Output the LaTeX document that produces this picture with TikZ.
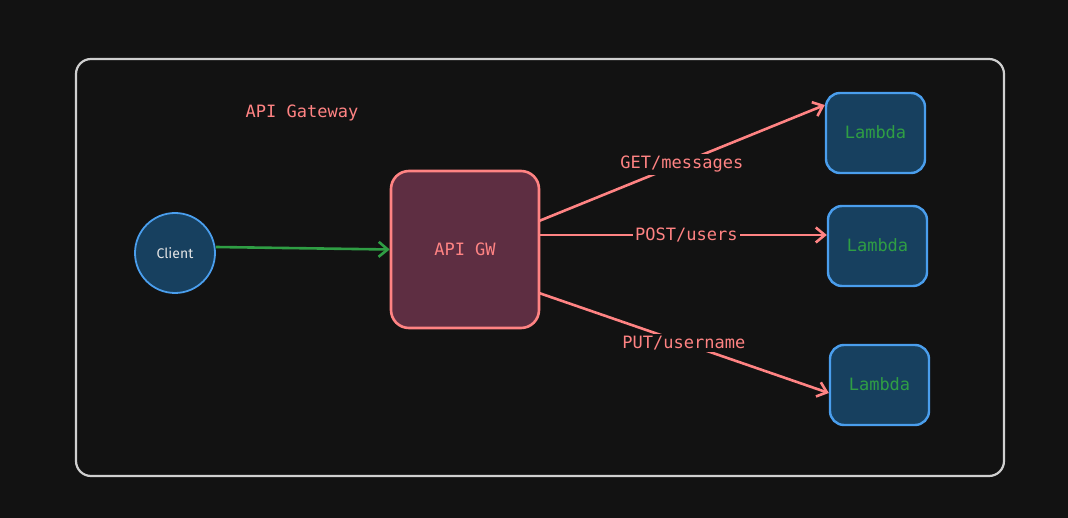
\documentclass[tikz,border=0pt]{standalone}
\usepackage{fontspec}
\setmonofont{DejaVu Sans Mono}
\newfontfamily\handfont{Fira Sans}
\usetikzlibrary{arrows.meta}
\definecolor{bg}{HTML}{121212}
\definecolor{salmon}{HTML}{FF8383}
\definecolor{frameg}{HTML}{CFCFCF}
\definecolor{gwfill}{HTML}{5E2E42}
\definecolor{lamfill}{HTML}{17405F}
\definecolor{lamstroke}{HTML}{4A9EED}
\definecolor{grn}{HTML}{2F9E44}
\tikzset{
  lambox/.style={draw=lamstroke, fill=lamfill, line width=2.4pt, rounded corners=14pt,
    minimum width=99pt, minimum height=80pt, text=grn, font=\ttfamily\fontsize{17}{17}\selectfont},
  gwbox/.style={draw=salmon, fill=gwfill, line width=2.6pt, rounded corners=18pt,
    minimum width=148pt, minimum height=157pt, text=salmon, font=\ttfamily\fontsize{17}{17}\selectfont},
  conn/.style={draw=salmon, line width=2.6pt, -{Straight Barb[length=9pt,width=15pt,line width=2.6pt]}},
  lbl/.style={fill=bg, text=salmon, inner sep=2pt, font=\ttfamily\fontsize{17}{17}\selectfont},
}
\begin{document}
\begin{tikzpicture}[x=1pt,y=-1pt]
\fill[bg] (0,0) rectangle (1068,518);
\useasboundingbox (0,0) rectangle (1068,518);
\node[draw=frameg, line width=2.2pt, rounded corners=15pt, minimum width=928pt, minimum height=417pt, inner sep=0pt] (frame) at (540,267.5) {};
\node[text=salmon, font=\ttfamily\fontsize{17}{17}\selectfont] (title) at (302,113) {API Gateway};
\node[circle, draw=lamstroke, fill=lamfill, line width=1.8pt, minimum size=80pt, inner sep=0pt, text=white!90!black, font=\handfont\fontsize{14}{14}\selectfont] (client) at (175,253) {Client};
\node[gwbox] (gw) at (465,249.5) {API GW};
\node[lambox] (l1) at (875.5,133) {\raisebox{1.5pt}{Lambda}};
\node[lambox] (l2) at (877.5,246) {\raisebox{1pt}{Lambda}};
\node[lambox] (l3) at (879.5,385) {\raisebox{1pt}{Lambda}};
\draw[draw=grn, line width=2.6pt, -{Straight Barb[length=9pt,width=15pt,line width=2.6pt]}] (client.east |- 0,247) -- (gw.west);
\draw[conn] (539,221) -- node[lbl, pos=0.5, yshift=-1.5pt] (lget) {GET/messages} (l1.west |- 0,105);
\draw[conn] (gw.east |- 0,235) -- node[lbl, pos=0.51] (lpost) {POST/users} (l2.west |- 0,235);
\draw[conn] (539,293) -- node[lbl, pos=0.5] (lput) {PUT/username} (l3.west |- 0,393);
\end{tikzpicture}
\end{document}
